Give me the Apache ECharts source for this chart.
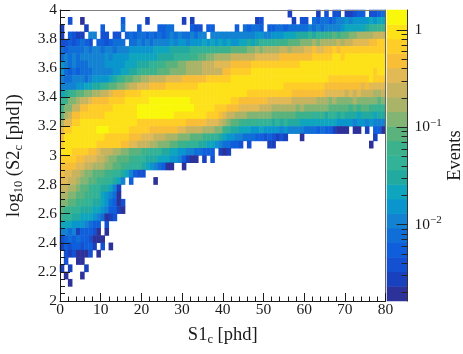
<!DOCTYPE html>
<html><head><meta charset="utf-8">
<style>html,body{margin:0;padding:0;background:#fff}#c{width:463px;height:354px}</style>
<script src="https://cdn.jsdelivr.net/npm/echarts@6/dist/echarts.min.js"></script>
</head><body><div id="c"></div>
<script>
// Lower edges of the S1c bins (phd) come from the 80 one-phd columns; log10(S2c) bins are 0.05 wide.
const xTicks = [0,10,20,30,40,50,60,70,80];
const yBinLows = ["3.95","3.90","3.85","3.80","3.75","3.70","3.65","3.60","3.55","3.50","3.45","3.40","3.35","3.30","3.25","3.20","3.15","3.10","3.05","3.00","2.95","2.90","2.85","2.80","2.75","2.70","2.65","2.60","2.55","2.50","2.45","2.40","2.35","2.30","2.25","2.20","2.15","2.10"];
// One string per y bin, one character per x bin: colour-bar step (0-9,a-j), '.' = empty.
const cellSteps = [
".......... .......... .......... .......... .......... ......1... ...1.2.22. 11233.2234",
"..2..0.... .....3.... .1........ 1.1....... ........12 .......1.2 2.43443455 6566667677",
"1.....1... 3....4...3 ....3344.. ..322.33.. ...3.43443 .334434444 4545455556 77777899aa",
"1.3211.55. 22.22.3434 4343434545 445455.555 5555555566 5566677788 89899aabab bccddddeee",
"22323432.3 323444.445 4545555656 6566676767 6766778789 999aaabbbc ccdcdddded eeffffgghh",
"4344445455 4554555666 6667777888 8899999a9a aabbbbccdc ddddeedeee ffgffgghgh hhhhhhhhhh",
"4545455555 5656666777 7777888899 99aabbccdd ddeeeeeeff ffffgggggg gghhhhhiih iiiiiiiiii",
"6545444555 5666667778 8899aabbbc cddddeeeff ffggggghhh hhhhhhhhhi iiiiiiiiii iiiiiiiiii",
"6434344455 5556677889 aaaabbbccc cddddeeeee gghhhhhiii iiiiiiiiii iiiiiiiiii iiiiiiihii",
"5445554566 66789abbcc ddeeeeffff gggggghhhh hhiiiiiiii iiiiiiiiii iiiiiihhhh hhhhhhihhh",
"5555667788 9abbccdeef ffgggghhhh hhhhiiiiii iiiiiiiiii iiiiihhhhh hhhhhggggg ggggfgffff",
"789abbccdd eefggghhhh iiiiiiiiii iiiiiiiiii iiiiiihhhh hhhhhhhggg gggggfffff efefeeedde",
"9accdeefgg gghhhhiiii iijjjjjjjj jjiiiiiiii iihhgggggg gffffffeee eeedddcdcc ccdcccccbc",
"acceegghhh hhhiiiiiij jjjjjjjjjj jjjiiiiihh hgggfffffe eeddddddcd ccccccbbbb bababbaa9a",
"bdegghhhhh hiiiiiiiij jjjjjjjjii iiiiiihhhg feedddcccc ccbbbbbbaa aa99a89989 8887888788",
"dffhhiiiii iiiiiiiiih hhhhhhhhhh hgggggfffe dcbbaa9a99 9989898887 7777777766 6656656555",
"fhhiiiiiij jjiiiiihhh hhgggggggf feeeedddcc a988777667 6666565555 4443433100 0.00.1.330",
"giiiiiiiii ihhhhhhggg fffeeedddc ccbbbaa998 7665544433 232121...0 .......... .......1..",
"hiiiiiiiih hhhhhggffe eeddcccbba a999887765 44332.2... .11....... .......... ......0...",
"iiihhhhggf eeeddccbbb aa99988776 65544333.1 01........",
"hhhhggfffe edccbbbaa9 9888777665 3100.1.2..",
"ggggffeedd dccbbaa999 87654300.. 0.........",
"gffeedccbb baa9987532 2.........",
"ffeedccbba a99875.3.. ...0......",
"eeddcbba99 88751.....",
"ddccbbaa99 76540.....",
"ccbbaa9988 764302....",
"baa9988877 653310....",
"a998877765 4012......",
"7776665433 .2........",
"5545133320 .0........",
"2343433200 0.........",
"132332331. 2.0.......",
".2120002.0",
".2..00....",
"1.1...1...",
".0...0....",
"..0......."
];
// Events per bin at each colour-bar step, and the step edges.
const stepEvents = [0.00194,0.00274,0.00387,0.00546,0.00771,0.01087,0.0153,0.0216,0.0305,0.0431,0.0608,0.0859,0.121,0.171,0.241,0.34,0.48,0.677,0.956,1.35];
const stepEdges = [0.001637,0.00231,0.00326,0.0046,0.00649,0.00916,0.0129,0.0182,0.0257,0.0363,0.0512,0.0723,0.102,0.144,0.203,0.286,0.404,0.57,0.805,1.135,1.6];
const barMajorDecades = [-2,-1,0];
const barMinorFactors = [2,3,4,5,6,7,8,9];

const stepColors = ['#2D329B','#1941BE','#1450D2','#0F5FDC','#0F6ED7','#1482D2','#0A96CD','#0FA5BE','#23AAA0','#32B296','#3CB28C','#5AB27D','#82B473','#AAB469','#C8B45F','#E1B955','#F8BE37','#FFCD28','#FDE119','#FAF80A'];
const SERIF = '"Liberation Serif","Times New Roman",serif';
const INK = '#1a1a1a';

const xBins = []; for (let i=0;i<80;i++) xBins.push(String(i));
const yBins = ["2.00","2.05"].concat(yBinLows.slice().reverse());
const heatData = [];
cellSteps.forEach(function(row,r){
  const s=row.replace(/ /g,'');
  for(let c=0;c<s.length;c++){
    if(s[c]==='.') continue;
    heatData.push([c, yBins.indexOf(yBinLows[r]), stepEvents[parseInt(s[c],20)]]);
  }
});
const barCats = stepEvents.map(String);
const barData = stepEvents.map(function(v,i){return [0,i,v];});
const barMinor = [];
[-3,-2,-1].forEach(function(d){barMinorFactors.forEach(function(f){
  const v=d+Math.log10(f); if(v>-2.786) barMinor.push(v);
});});
const pieces = stepColors.map(function(col,i){return {gte:stepEdges[i],lt:stepEdges[i+1],color:col};});

const sub = {fontFamily:SERIF,fontSize:12.5,color:INK,padding:[9,0,0,0]};
const base = {fontFamily:SERIF,fontSize:18.5,color:INK};
const tickLabel = {fontFamily:SERIF,fontSize:15.5,color:INK};

const chart = echarts.init(document.getElementById('c'),null,{renderer:'canvas'});
chart.setOption({
  animation:false,
  backgroundColor:'#fff',
  grid:[
    {left:60,top:10,width:325.5,height:291,outerBoundsMode:'none'},
    {left:387,top:10,width:20.5,height:291,outerBoundsMode:'none'}
  ],
  visualMap:{type:'piecewise',show:false,seriesIndex:[0,1],pieces:pieces},
  xAxis:[
    {gridIndex:0,type:'category',data:xBins,show:false},
    {gridIndex:0,type:'value',min:0,max:80,interval:10,position:'bottom',z:5,
     axisLine:{show:true,onZero:false,lineStyle:{color:INK,width:1}},
     axisTick:{show:true,inside:true,length:8,lineStyle:{color:INK}},
     minorTick:{show:true,splitNumber:5,length:4.5,lineStyle:{color:INK}},
     splitLine:{show:false},
     axisLabel:Object.assign({margin:1,customValues:xTicks},tickLabel),
     name:'{a|S1}{s|c}{a| [phd]}',nameLocation:'middle',nameGap:23,
     nameTextStyle:{rich:{a:base,s:sub}}},
    {gridIndex:0,type:'value',min:0,max:80,position:'top',z:5,
     axisLine:{show:true,onZero:false,lineStyle:{color:'#808080',width:1}},
     axisTick:{show:false},axisLabel:{show:false},splitLine:{show:false}},
    {gridIndex:1,type:'category',data:['bar'],show:false}
  ],
  yAxis:[
    {gridIndex:0,type:'category',data:yBins,show:false},
    {gridIndex:0,type:'value',min:2,max:4,interval:0.2,position:'left',z:5,
     axisLine:{show:true,onZero:false,lineStyle:{color:INK,width:1}},
     axisTick:{show:true,inside:true,length:10,lineStyle:{color:INK}},
     minorTick:{show:true,splitNumber:4,length:5,lineStyle:{color:INK}},
     splitLine:{show:false},
     axisLabel:Object.assign({margin:3},tickLabel),
     name:'{a|log}{s|10}{a| (S2}{s|c}{a| [phd])}',nameLocation:'middle',nameGap:35,
     nameTextStyle:{rich:{a:base,s:sub}}},
    {gridIndex:0,type:'value',min:2,max:4,position:'right',z:5,
     axisLine:{show:true,onZero:false,lineStyle:{color:'#666',width:1}},
     axisTick:{show:false},axisLabel:{show:false},splitLine:{show:false}},
    {gridIndex:1,type:'category',data:barCats,show:false},
    {gridIndex:1,type:'value',min:-2.786,max:0.205,position:'right',z:5,
     axisLine:{show:true,onZero:false,lineStyle:{color:'#333',width:1}},
     axisTick:{show:true,inside:true,length:11,customValues:barMajorDecades,lineStyle:{color:'#222'}},
     splitLine:{show:false},
     axisLabel:Object.assign({margin:7,customValues:barMajorDecades,
       formatter:function(v){return v===0?'{n|1}':'{n|10}{u|\u2212'+Math.abs(v)+'}';},
       rich:{n:tickLabel,u:{fontFamily:SERIF,fontSize:11,color:INK,padding:[0,0,8,0]}}},tickLabel),
     name:'Events',nameLocation:'middle',nameGap:34,
     nameTextStyle:{fontFamily:SERIF,fontSize:18.5,color:INK}},
    {gridIndex:1,type:'value',min:-2.786,max:0.205,position:'right',z:5,
     axisLine:{show:false},
     axisTick:{show:true,inside:true,length:6,customValues:barMinor,lineStyle:{color:'#222'}},
     axisLabel:{show:false},splitLine:{show:false}}
  ],
  series:[
    {type:'heatmap',xAxisIndex:0,yAxisIndex:0,data:heatData,progressive:0,silent:true,emphasis:{disabled:true}},
    {type:'heatmap',xAxisIndex:3,yAxisIndex:3,data:barData,progressive:0,silent:true,emphasis:{disabled:true}}
  ]
});
</script></body></html>
